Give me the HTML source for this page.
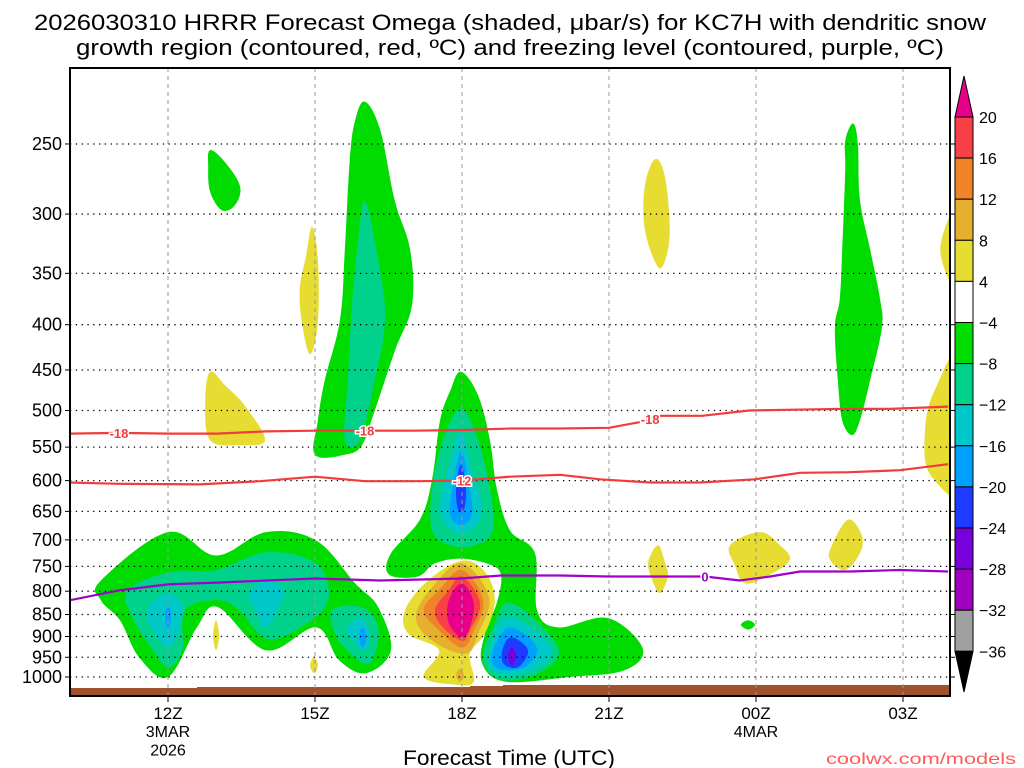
<!DOCTYPE html>
<html><head><meta charset="utf-8"><style>
html,body{margin:0;padding:0;background:#fff;}
svg{display:block;font-family:"Liberation Sans Narrow","Liberation Sans",sans-serif;}
</style></head><body>
<svg id="chart" width="1024" height="768" viewBox="0 0 1024 768" xmlns="http://www.w3.org/2000/svg">
<rect width="1024" height="768" fill="#fff"/>
<text x="510" y="30" font-size="22" text-anchor="middle" textLength="952" lengthAdjust="spacingAndGlyphs">2026030310 HRRR Forecast Omega (shaded, μbar/s) for KC7H with dendritic snow</text>
<text x="510" y="55" font-size="22" text-anchor="middle" textLength="868" lengthAdjust="spacingAndGlyphs">growth region (contoured, red, ºC) and freezing level (contoured, purple, ºC)</text>
<defs><clipPath id="plotclip"><rect x="70" y="68" width="880" height="628"/></clipPath></defs>
<g id="shades" clip-path="url(#plotclip)"></g>
<g id="grid"></g>
<g id="lines" clip-path="url(#plotclip)"></g>
<g id="axes"></g>
<g id="cbar"></g>
<text x="509" y="765" font-size="21" text-anchor="middle" textLength="212" lengthAdjust="spacingAndGlyphs">Forecast Time (UTC)</text>
<text x="1016" y="764" font-size="16" text-anchor="end" fill="#ff5a5a" textLength="190" lengthAdjust="spacingAndGlyphs">coolwx.com/models</text>
</svg>
<script>
// ===== data =====
const tickHours = [2, 5, 8, 11, 14, 17];
const tickLabels = ["12Z", "15Z", "18Z", "21Z", "00Z", "03Z"];
const tickDates = ["3MAR\n2026", "", "", "", "4MAR", ""];
const pressureLevels = [250, 300, 350, 400, 450, 500, 550, 600, 650, 700, 750, 800, 850, 900, 950, 1000];
const cbarLevels = [20, 16, 12, 8, 4, -4, -8, -12, -16, -20, -24, -28, -32, -36];
const cbarColors = ["#f84046", "#f08228", "#e6af2d", "#e6dc32", "#ffffff", "#00dc00", "#00d28c", "#00c8c8", "#00a0ff", "#1e3cff", "#7800dc", "#a000c0", "#a0a0a0"];
const colTop = "#e8008a", colBot = "#000000";

// temperature contours: hours since 10Z, pressure (hPa)
const t18Hours = [0,1,2,3,4,5,6,7,8,9,10,11,11.65,12.06,12.9,13.86,14.78,15.8,16.73,17.92];
const t18Press = [531,530,531,531,528,527,527,527,526,524,524,523,515,507,507,500,499,498,498,495];
const t12Hours = [0,1,2.65,3.88,5.0,6.02,7.14,7.98,8.98,10,10.82,11.84,12.86,13.98,14.9,15.9,16.94,17.92];
const t12Press = [603,605,606,601,594,601,601,600,594,591,598,603,603,598,588,587,584,575];
const t0Hours = [0,1.02,2.0,3.06,5.0,6.33,7.98,8.8,10,10.98,12.96,13.67,14.29,14.9,15.92,16.94,17.92];
const t0Press = [819,798,786,782,774,778,774,768,768,770,770,778,770,760,760,757,760];

// omega shaded regions: [level color index, [[hour, hPa], ...]]
const omegaRegions = [
 [5, [[2.86,254],[3.16,262],[3.47,279],[3.37,293],[3.1,297],[2.86,283],[2.82,265]]],
 [3, [[4.94,310],[5.06,338],[5.06,397],[4.9,432],[4.73,397],[4.69,364],[4.82,334]]],
 [5, [[6.02,224],[6.33,241],[6.63,290],[6.94,329],[6.98,380],[6.63,428],[6.22,500],[5.96,547],[5.61,561],[5.0,561],[5.06,513],[5.2,462],[5.51,395],[5.61,328],[5.71,260],[5.82,235]]],
 [6, [[6.02,290],[6.29,338],[6.43,395],[6.22,462],[5.92,540],[5.61,540],[5.67,462],[5.76,377],[5.88,321]]],
 [3, [[2.86,452],[3.16,468],[3.57,494],[3.98,540],[3.47,547],[2.86,540],[2.76,488]]],
 [3, [[11.94,260],[12.14,272],[12.24,312],[12.14,339],[11.98,343],[11.73,312],[11.73,279]]],
 [5, [[15.98,237],[16.08,250],[16.12,289],[16.33,329],[16.53,374],[16.57,403],[16.33,462],[16.12,513],[15.96,533],[15.76,513],[15.67,462],[15.61,403],[15.71,374],[15.76,329],[15.82,268],[15.82,248]]],
 [3, [[18.2,290],[17.76,329],[18.2,370]]],
 [3, [[18.3,420],[17.65,474],[17.45,527],[17.55,590],[18.3,615]]],
 [5, [[0.63,778],[2.0,686],[2.98,729],[4.0,686],[5.02,701],[5.82,784],[6.29,834],[6.55,933],[6.04,990],[5.49,957],[5.02,879],[4.0,933],[3.02,834],[2.59,879],[2.0,1000],[1.41,950],[1.02,863],[0.63,819]]],
 [6, [[1.18,798],[2.04,761],[2.98,757],[4.0,723],[5.02,744],[5.27,819],[4.71,879],[4.0,905],[3.45,840],[3.02,819],[2.35,840],[2.29,933],[2.0,975],[1.65,926],[1.27,856]]],
 [7, [[1.57,840],[2.0,804],[2.29,834],[2.2,893],[2.0,926],[1.73,893]]],
 [8, [[1.96,836],[2.04,836],[2.06,863],[2.0,881],[1.94,863]]],
 [7, [[3.65,804],[4.0,778],[4.35,798],[4.24,840],[4.0,879],[3.78,840]]],
 [6, [[5.35,840],[5.96,834],[6.29,879],[6.2,950],[6.0,965],[5.65,933],[5.41,893]]],
 [7, [[5.65,879],[5.96,856],[6.12,902],[6.0,933],[5.78,910]]],
 [8, [[5.94,879],[6.02,886],[6.04,910],[5.96,926],[5.9,902]]],
 [3, [[2.98,863],[3.04,898],[2.98,933],[2.92,898]]],
 [3, [[4.98,950],[5.06,970],[4.98,990],[4.9,970]]],
 [5, [[7.98,452],[8.33,481],[8.57,540],[8.71,613],[8.98,683],[9.49,725],[9.53,840],[9.96,879],[10.98,858],[11.69,929],[11.31,983],[10.2,1000],[8.88,1012],[8.41,965],[8.47,893],[8.71,825],[8.8,770],[8.61,748],[8.0,735],[7.45,744],[7.1,770],[6.51,766],[6.55,725],[7.14,664],[7.39,598],[7.55,514],[7.76,475]]],
 [6, [[7.98,497],[8.33,540],[8.57,613],[8.63,683],[8.27,710],[7.76,710],[7.39,683],[7.39,613],[7.61,540]]],
 [7, [[7.98,529],[8.2,584],[8.41,647],[8.16,683],[7.8,683],[7.55,647],[7.71,584]]],
 [8, [[7.98,556],[8.16,613],[8.2,656],[7.98,674],[7.76,656],[7.8,613]]],
 [9, [[7.98,575],[8.08,613],[8.04,647],[7.92,647],[7.88,613]]],
 [6, [[9.02,825],[9.96,926],[9.57,990],[8.8,1007],[8.43,957],[8.63,879]]],
 [7, [[8.94,856],[9.82,926],[9.43,983],[8.71,990],[8.55,941]]],
 [8, [[8.98,879],[9.53,926],[9.27,975],[8.71,978],[8.63,933]]],
 [9, [[9.02,902],[9.35,933],[9.14,975],[8.84,965],[8.84,926]]],
 [10, [[9.02,926],[9.1,945],[9.02,970],[8.94,945]]],
 [3, [[8.0,739],[8.47,761],[8.67,819],[8.47,893],[8.16,941],[8.24,1012],[7.86,1020],[7.22,1000],[7.53,933],[6.9,893],[6.84,840],[7.31,778]]],
 [2, [[8.0,744],[8.55,813],[8.33,893],[8.08,941],[7.39,910],[7.06,856],[7.39,792]]],
 [1, [[8.0,757],[8.43,819],[8.24,886],[8.0,926],[7.53,886],[7.22,840],[7.53,798]]],
 [0, [[8.0,770],[8.37,825],[8.16,886],[8.0,910],[7.61,879],[7.45,840],[7.73,798]]],
 [-1, [[8.0,784],[8.24,825],[8.16,879],[8.0,902],[7.73,870],[7.73,819]]],
 [2, [[7.96,978],[8.04,995],[7.96,1012],[7.88,995]]],
 [3, [[12.0,710],[12.14,742],[12.2,770],[12.04,804],[11.88,776],[11.8,742]]],
 [3, [[13.47,710],[14.08,686],[14.49,710],[14.69,737],[14.29,766],[13.78,784],[13.57,748]]],
 [3, [[15.88,664],[16.16,692],[16.12,725],[15.82,757],[15.51,737],[15.55,710]]],
 [5, [[13.69,873],[13.84,863],[13.98,873],[13.84,884]]]
];

// ===== scales =====
const X0 = 70, X1 = 950, YT = 68, YB = 696;
function xs(h){ return 70 + h * 49; }
function ys(p){ return 677 - 384.5 * Math.log(1000 / p); }
const NS = "http://www.w3.org/2000/svg";
function mk(tag, attrs, parent){ const e = document.createElementNS(NS, tag); for (const k in attrs) e.setAttribute(k, attrs[k]); parent.appendChild(e); return e; }

// shaded regions (Catmull-Rom closed paths through the vertices)
const gS = document.getElementById('shades');
omegaRegions.forEach((r, i) => {
  const pts = r[1].map(q => [xs(q[0]), ys(q[1])]);
  const n = pts.length;
  const T = 0.35;
  let d = `M${pts[0][0].toFixed(1)},${pts[0][1].toFixed(1)}`;
  for (let k = 0; k < n; k++) {
    const p0 = pts[(k-1+n)%n], p1 = pts[k], p2 = pts[(k+1)%n], p3 = pts[(k+2)%n];
    const c1 = [p1[0] + (p2[0]-p0[0])*T/2, p1[1] + (p2[1]-p0[1])*T/2];
    const c2 = [p2[0] - (p3[0]-p1[0])*T/2, p2[1] - (p3[1]-p1[1])*T/2];
    d += ` C${c1[0].toFixed(1)},${c1[1].toFixed(1)} ${c2[0].toFixed(1)},${c2[1].toFixed(1)} ${p2[0].toFixed(1)},${p2[1].toFixed(1)}`;
  }
  const col = r[0] < 0 ? colTop : cbarColors[r[0]];
  const el = mk('path', {d: d + 'Z', fill: col}, gS);
  
  
});

// ground bar
const ground = mk('path', {d: 'M70,688 H197 V687 H470 V686 H503 V685 H950 V696 H70 Z', fill: '#a0522d'}, gS);



// grid
const gG = document.getElementById('grid');
pressureLevels.forEach(p => {
  const y = ys(p);
  const l = mk('line', {x1: X0, x2: X1, y1: y, y2: y, stroke: '#000', 'stroke-width': 1.3, 'stroke-dasharray': '1.3 4.5'}, gG);
  
  
});
tickHours.forEach((h, i) => {
  const x = xs(h);
  const l = mk('line', {x1: x, x2: x, y1: YT, y2: YB, stroke: '#999', 'stroke-width': 1, 'stroke-dasharray': '4 4'}, gG);
  
  
});

// temperature contour lines
const gL = document.getElementById('lines');
function drawLine(hrs, prs, color, name){
  const d = hrs.map((h, k) => (k ? 'L' : 'M') + xs(h).toFixed(1) + ',' + ys(prs[k]).toFixed(1)).join(' ');
  const el = mk('path', {d: d, fill: 'none', stroke: color, 'stroke-width': 2.2, 'stroke-linejoin': 'round'}, gL);
  
  
}
function interpP(hrs, prs, h){
  for (let k = 0; k < hrs.length - 1; k++) if (h >= hrs[k] && h <= hrs[k+1]) return prs[k] + (prs[k+1]-prs[k]) * (h-hrs[k]) / (hrs[k+1]-hrs[k]);
  return prs[prs.length-1];
}
function label(hrs, prs, h, txt, color, name){
  const x = xs(h), y = ys(interpP(hrs, prs, h));
  const t = mk('text', {x: x, y: y+5, 'font-size': 13, 'font-weight': 'bold', 'text-anchor': 'middle', fill: color, stroke: '#fff', 'stroke-width': 3, 'paint-order': 'stroke'}, gL);
  t.textContent = txt;
  
  
}
drawLine(t18Hours, t18Press, '#f03c3c', 'contour-minus18');
drawLine(t12Hours, t12Press, '#f03c3c', 'contour-minus12');
drawLine(t0Hours, t0Press, '#a000c8', 'freezing-level-contour');
label(t18Hours, t18Press, 1.0, '-18', '#f03c3c', 'label-minus18-a');
label(t18Hours, t18Press, 6.02, '-18', '#f03c3c', 'label-minus18-b');
label(t18Hours, t18Press, 11.84, '-18', '#f03c3c', 'label-minus18-c');
label(t12Hours, t12Press, 8.0, '-12', '#f03c3c', 'label-minus12');
label(t0Hours, t0Press, 12.96, '0', '#a000c8', 'label-zero');

// axes
const gA = document.getElementById('axes');
const frame = mk('rect', {x: X0, y: YT, width: X1-X0, height: YB-YT, fill: 'none', stroke: '#000', 'stroke-width': 2}, gA);


pressureLevels.forEach(p => {
  const y = ys(p);
  mk('line', {x1: X0-5, x2: X0, y1: y, y2: y, stroke: '#000', 'stroke-width': 1}, gA);
  mk('line', {x1: X1, x2: X1+5, y1: y, y2: y, stroke: '#000', 'stroke-width': 1}, gA);
  const t = mk('text', {x: X0-8, y: y+6, 'font-size': 18, 'text-anchor': 'end'}, gA);
  t.textContent = p;
  
  
});
tickHours.forEach((h, i) => {
  const x = xs(h);
  mk('line', {x1: x, x2: x, y1: YB, y2: YB+6, stroke: '#000', 'stroke-width': 1}, gA);
  const t = mk('text', {x: x, y: 719, 'font-size': 17, 'text-anchor': 'middle'}, gA);
  t.textContent = tickLabels[i];
  
  
  tickDates[i].split('\n').forEach((s, j) => {
    if (!s) return;
    const d = mk('text', {x: x, y: 737 + j*18.5, 'font-size': 16, 'text-anchor': 'middle'}, gA);
    d.textContent = s;
    
    
  });
});

// colorbar
const gC = document.getElementById('cbar');
const CX0 = 955, CX1 = 973, CT = 117, STEP = 41.1;
const tri1 = mk('polygon', {points: `${CX0},${CT} ${CX1},${CT} ${(CX0+CX1)/2},76`, fill: colTop, stroke: '#000', 'stroke-width': 1}, gC);


cbarColors.forEach((c, k) => {
  const r = mk('rect', {x: CX0, y: CT + k*STEP, width: CX1-CX0, height: STEP, fill: c, stroke: '#000', 'stroke-width': 1}, gC);
  
  
});
const yb = CT + cbarColors.length*STEP;
const tri2 = mk('polygon', {points: `${CX0},${yb} ${CX1},${yb} ${(CX0+CX1)/2},692`, fill: colBot, stroke: '#000', 'stroke-width': 1}, gC);


cbarLevels.forEach((v, k) => {
  const t = mk('text', {x: 979, y: CT + k*STEP + 6, 'font-size': 16}, gC);
  t.textContent = v < 0 ? '−' + Math.abs(v) : String(v);
  
  
});
</script>
</body></html>
